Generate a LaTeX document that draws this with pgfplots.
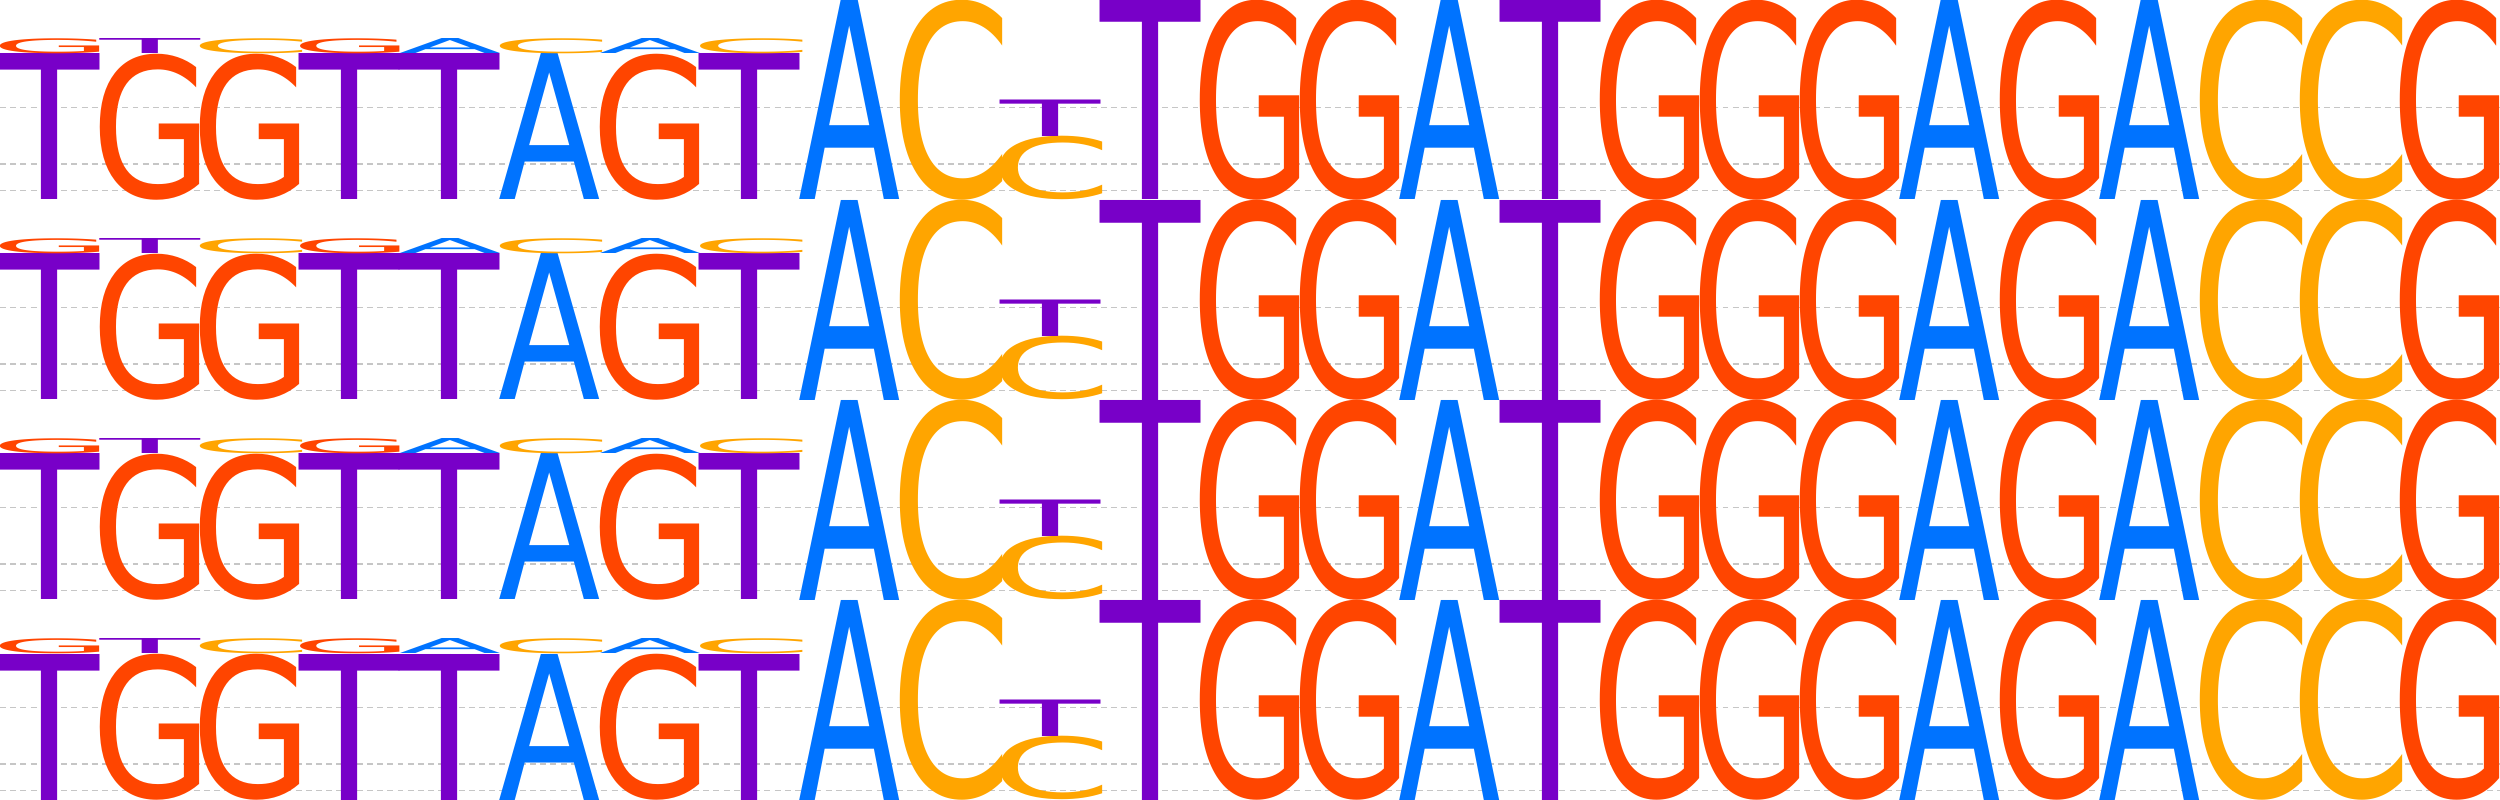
\documentclass[border=0pt]{standalone}
\usepackage{pgfplots}
\usepackage{pgfplotstable}
\usepackage{graphicx}
\usepackage{fontspec}
\pgfplotsset{compat=1.18}
\newfontfamily\logofont{DejaVu Sans}

\definecolor{logoA}{HTML}{0073FF}
\definecolor{logoC}{HTML}{FFA500}
\definecolor{logoG}{HTML}{FF4500}
\definecolor{logoT}{HTML}{7800C8}

% glyphs with side bearings kerned away so the ink fills the column
\newcommand\glyphA{\kern-0.008em A\kern-0.008em}
\newcommand\glyphC{\kern-0.056em C\kern-0.068em}
\newcommand\glyphG{\kern-0.056em G\kern-0.078em}
\newcommand\glyphT{T}

% x = position, y = base of the letter, h = its height (bits)
\pgfplotstableread{
x  y     h     L
1  0     1.46  T
1  1.46  0.15  G
2  0     1.46  G
2  1.46  0.15  T
3  0     1.46  G
3  1.46  0.15  C
4  0     1.46  T
4  1.46  0.15  G
5  0     1.46  T
5  1.46  0.15  A
6  0     1.46  A
6  1.46  0.15  C
7  0     1.46  G
7  1.46  0.15  A
8  0     1.46  T
8  1.46  0.15  C
9  0     2     A
10 0     2     C
11 0     0.635 C
11 0.635 0.365 T
12 0     2     T
13 0     2     G
14 0     2     G
15 0     2     A
16 0     2     T
17 0     2     G
18 0     2     G
19 0     2     G
20 0     2     A
21 0     2     G
22 0     2     A
23 0     2     C
24 0     2     C
25 0     2     G
}\logodata

\pgfplotsset{
  logorow/.style={
    x=1cm, y=1cm,
    xmin=0.5, xmax=25.5, ymin=0, ymax=2,
    axis line style={draw=none},
    xtick=\empty,
    ytick={0.093,0.36,0.923},
    yticklabels={},
    yticklabel style={inner sep=0pt, outer sep=0pt},
    major tick length=0pt,
    ymajorgrids=true,
    grid style={gray!45, line width=0.45pt, dash pattern=on 1.7pt off 1.2pt},
    clip=false,
    anchor=south west,
  },
  logoletters/.style={
    scatter, only marks, mark=*, mark size=0pt,
    mark options={draw=none, fill=none},
    point meta=explicit symbolic,
    visualization depends on={\thisrow{h} \as \hval},
    scatter/@pre marker code/.code={%
      \edef\col{logo\pgfplotspointmeta}%
      \pgfmathsetlengthmacro\hlen{\hval*1cm}%
      \node[inner sep=0pt, outer sep=0pt, anchor=south, text=\col] at (0pt,0pt)
        {\resizebox*{1cm}{\hlen}{\logofont\csname glyph\pgfplotspointmeta\endcsname}};
    },
    scatter/@post marker code/.code={},
  },
}

\begin{document}
\begin{tikzpicture}
\useasboundingbox (0,0) rectangle (25cm,8cm);
\begin{axis}[logorow, at={(0,6cm)}]
\addplot[logoletters] table[x=x, y=y, meta=L] {\logodata};
\end{axis}
\begin{axis}[logorow, at={(0,4cm)}]
\addplot[logoletters] table[x=x, y=y, meta=L] {\logodata};
\end{axis}
\begin{axis}[logorow, at={(0,2cm)}]
\addplot[logoletters] table[x=x, y=y, meta=L] {\logodata};
\end{axis}
\begin{axis}[logorow, at={(0,0)}]
\addplot[logoletters] table[x=x, y=y, meta=L] {\logodata};
\end{axis}
\end{tikzpicture}
\end{document}
